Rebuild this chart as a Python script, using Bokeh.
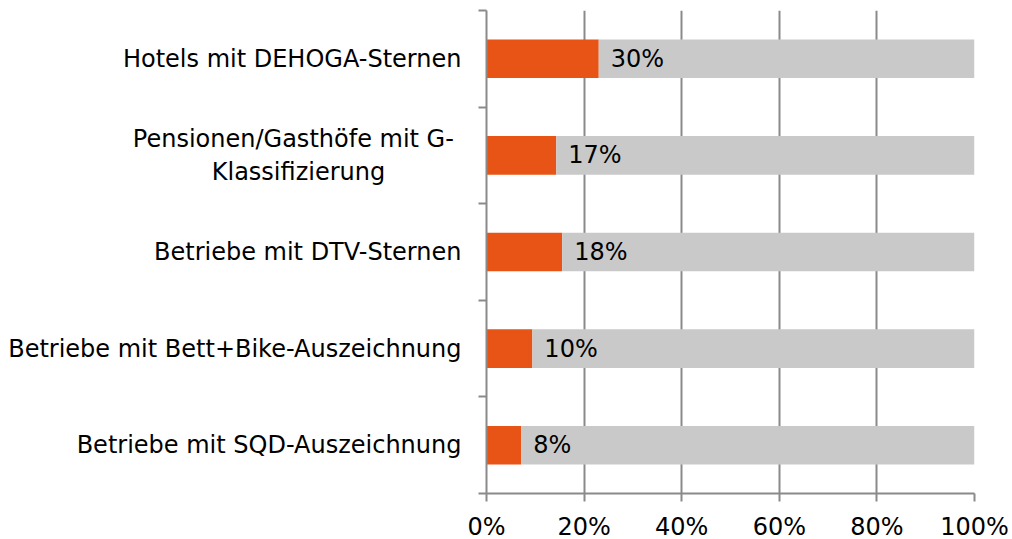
from bokeh.plotting import figure
from bokeh.models import ColumnDataSource, FixedTicker
from bokeh.core.properties import value
from bokeh.embed import file_html
from bokeh.resources import INLINE

categories = ["Hotels mit DEHOGA-Sternen",
              "Pensionen/Gasthöfe mit G-\nKlassifizierung",
              "Betriebe mit DTV-Sternen",
              "Betriebe mit Bett+Bike-Auszeichnung",
              "Betriebe mit SQD-Auszeichnung"]
bar_values = [23.0, 14.3, 15.5, 9.4, 7.1]          # orange bar lengths, %
label_texts = ["30%", "17%", "18%", "10%", "8%"]   # value labels as shown
x_ticks = [0, 20, 40, 60, 80, 100]
x_tick_labels = ["0%", "20%", "40%", "60%", "80%", "100%"]

FONT = "DejaVu Sans"
ORANGE = "#E85415"
LIGHT = "#C9C9C9"
AXIS = "#8A8A8A"

BL, BR, BT, BB = 486, 36, 10, 50
FW, FH = 488, 483
W, H = BL + FW + BR, BT + FH + BB
n = len(categories)
ypos = [n - 0.5 - i for i in range(n)]

src = ColumnDataSource(dict(y=ypos, v=bar_values, total=[100] * n,
                            lab=label_texts))

p = figure(width=W, height=H, x_range=(0, 100), y_range=(0, n),
           output_backend="svg", toolbar_location=None,
           min_border_left=BL, min_border_right=BR, min_border_top=BT,
           min_border_bottom=BB)
p.outline_line_color = None
p.background_fill_color = "white"

p.hbar(y="y", left=0, right="v", height=0.4, source=src,
       fill_color=ORANGE, line_color=None)
p.hbar(y="y", left="v", right="total", height=0.4, source=src,
       fill_color=LIGHT, line_color=None)
p.text(x="v", y="y", text="lab", source=src, x_offset=12,
       text_baseline="middle", text_align="left",
       text_font=value(FONT), text_font_size="24px", text_color="black")

# x axis
p.xaxis.ticker = FixedTicker(ticks=x_ticks)
p.xaxis.major_label_overrides = {t: l for t, l in zip(x_ticks, x_tick_labels)}
p.xaxis.major_label_text_font = FONT
p.xaxis.major_label_text_font_size = "24px"
p.xaxis.major_label_text_color = "black"
p.xaxis.major_tick_out = 8
p.xaxis.major_tick_in = 0
p.xaxis.minor_tick_line_color = None
p.xaxis.axis_line_color = AXIS
p.xaxis.axis_line_width = 2
p.xaxis.major_tick_line_color = AXIS
p.xaxis.major_tick_line_width = 2
p.xaxis.major_label_standoff = 11

# y axis: labels at centers, ticks at category boundaries.
# Wrapped label: lines padded with no-break spaces so that the second line
# sits centred under the first one, as in the reference.
NB = "\u00a0"
overrides = {}
for y, c in zip(ypos, categories):
    if "\n" in c:
        first, second = c.split("\n")
        overrides[y] = first + NB + "\n" + second + NB * 10
    else:
        overrides[y] = c
p.yaxis.ticker = FixedTicker(ticks=ypos, minor_ticks=list(range(n + 1)))
p.yaxis.major_label_overrides = overrides
p.yaxis.major_label_text_font = FONT
p.yaxis.major_label_text_font_size = "24px"
p.yaxis.major_label_text_color = "black"
p.yaxis.major_label_text_line_height = 1.2
p.yaxis.major_tick_out = 0
p.yaxis.major_tick_in = 0
p.yaxis.major_tick_line_color = None
p.yaxis.minor_tick_out = 8
p.yaxis.minor_tick_in = 0
p.yaxis.minor_tick_line_color = AXIS
p.yaxis.minor_tick_line_width = 2
p.yaxis.axis_line_color = AXIS
p.yaxis.axis_line_width = 2
p.yaxis.major_label_standoff = 17

p.xgrid.ticker = FixedTicker(ticks=x_ticks)
p.xgrid.grid_line_color = AXIS
p.xgrid.grid_line_width = 2
p.ygrid.grid_line_color = None

open("out.html", "w").write(file_html(p, INLINE))
